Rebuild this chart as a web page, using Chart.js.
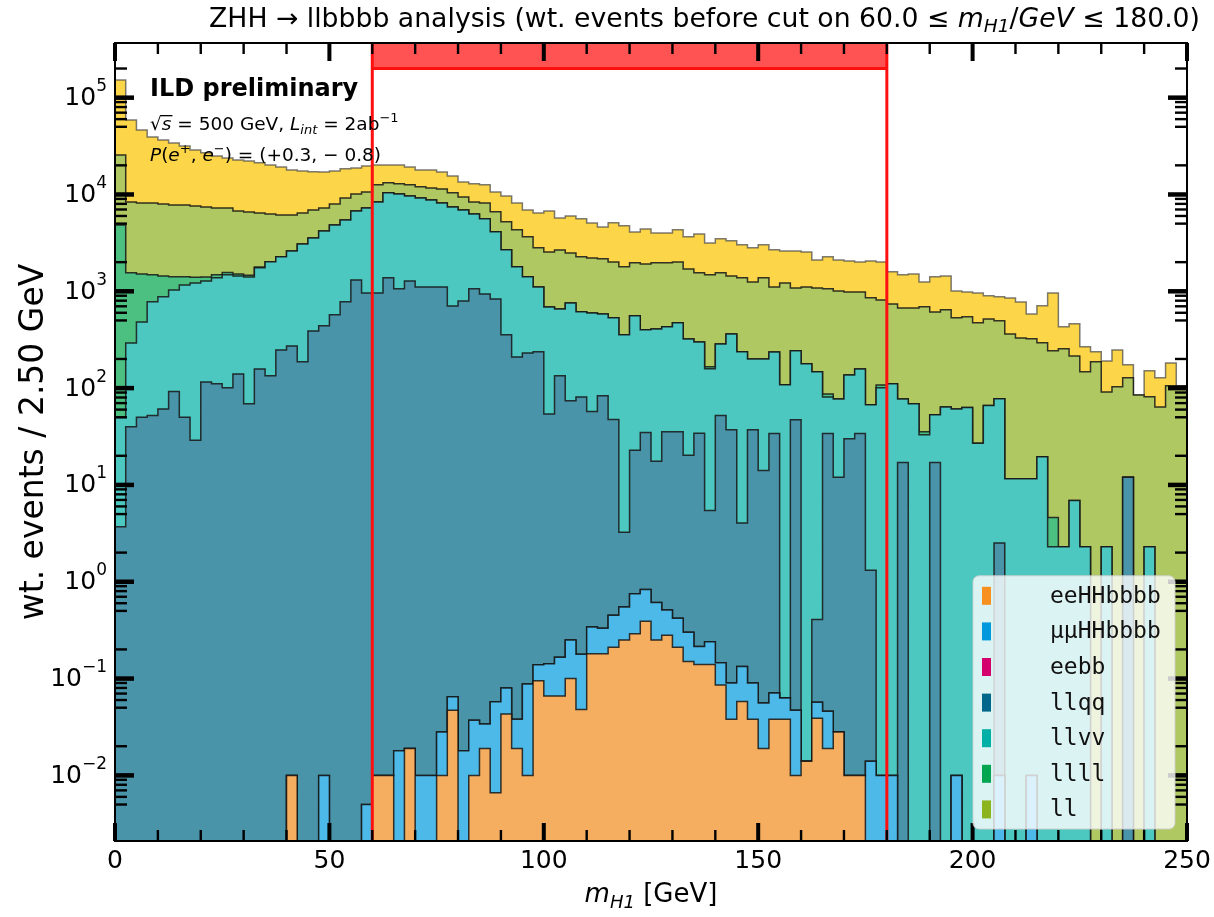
<!DOCTYPE html>
<html>
<head>
<meta charset="utf-8">
<script src="https://cdn.jsdelivr.net/npm/chart.js@4.4.1/dist/chart.umd.min.js"></script>
<style>
  html, body { margin: 0; padding: 0; background: #fff; }
  #wrap { width: 1214px; height: 917px; }
</style>
</head>
<body>
<div id="wrap"><canvas id="mh1Chart" width="1214" height="917"></canvas></div>
<script>
// m_H1 histogram, 100 bins of 2.5 GeV between 0 and 250 GeV
const binWidth = 2.5;
const nBins = 100;
const cutLow = 60.0;
const cutHigh = 180.0;
const cutBandFloor = 2.0e5;     // lower edge of the red cut band at the top
const yDecades = [-2, -1, 0, 1, 2, 3, 4, 5];
const yMinorMults = [2, 5, 6, 7, 8, 9];
const xTickValues = [0, 50, 100, 150, 200, 250];

// per-bin weighted events, stacked from bottom to top
const eeHHbbbb = [
  0, 0, 0, 0, 0, 0, 0, 0, 0, 0,
  0, 0, 0, 0, 0, 0, 0.01, 0, 0, 0,
  0, 0, 0, 0, 0.01, 0.01, 0, 0.019, 0, 0,
  0.01, 0.047, 0, 0.01, 0.019, 0.0066, 0.043, 0.019, 0.01, 0.095,
  0.066, 0.066, 0.1, 0.048, 0.18, 0.18, 0.21, 0.25, 0.29, 0.39,
  0.25, 0.28, 0.21, 0.15, 0.14, 0.14, 0.086, 0.038, 0.058, 0.038,
  0.019, 0.038, 0.038, 0.01, 0.014, 0.039, 0.019, 0.028, 0.01, 0.01,
  0, 0, 0, 0, 0, 0, 0, 0, 0, 0,
  0, 0, 0, 0, 0, 0, 0, 0, 0, 0,
  0, 0, 0, 0, 0, 0, 0, 0, 0, 0
];
const mumuHHbbbb = [
  0, 0, 0, 0, 0, 0, 0, 0, 0, 0,
  0, 0, 0, 0, 0, 0, 0, 0, 0, 0.01,
  0, 0, 0, 0.005, 0, 0, 0.018, 0, 0.01, 0.01,
  0.018, 0.018, 0.018, 0.027, 0.015, 0.051, 0.037, 0.019, 0.078, 0.044,
  0.076, 0.10, 0.15, 0.13, 0.16, 0.15, 0.24, 0.30, 0.46, 0.44,
  0.36, 0.23, 0.21, 0.15, 0.074, 0.10, 0.06, 0.052, 0.075, 0.052,
  0.037, 0.033, 0.025, 0.037, 0, 0.018, 0.027, 0, 0, 0,
  0.014, 0.01, 0.01, 0, 0, 0, 0, 0, 0.01, 0,
  0, 0, 0.01, 0, 0, 0.01, 0, 0, 0, 0,
  0, 0, 0, 0, 0, 0, 0, 0, 0, 0
];
const eebb = [
  0, 0, 0, 0, 0, 0, 0, 0, 0, 0,
  0, 0, 0, 0, 0, 0, 0, 0, 0, 0,
  0, 0, 0, 0, 0, 0, 0, 0, 0, 0,
  0, 0, 0, 0, 0, 0, 0, 0, 0, 0,
  0, 0, 0, 0, 0, 0, 0, 0, 0, 0,
  0, 0, 0, 0, 0, 0, 0, 0, 0, 0,
  0, 0, 0, 0, 0, 0, 0, 0, 0, 0,
  0, 0, 0, 0, 0, 0, 0, 0, 0, 0,
  0, 0, 0, 0, 0, 0, 0, 0, 0, 0,
  0, 0, 0, 0, 0, 0, 0, 0, 0, 0
];
const llqq = [
  3.7, 40, 50, 52, 61, 92, 50, 29, 116, 111,
  101, 140, 69, 158, 134, 248, 273, 187, 390, 440,
  571, 778, 1310, 963, 963, 1380, 1060, 1280, 1110, 1110,
  1110, 707, 796, 1060, 940, 835, 355, 210, 231, 237,
  54, 134, 74, 81, 57, 83, 47, 2.7, 22, 34,
  17, 35, 35, 20, 34, 5.2, 52, 37, 3.9, 37,
  14, 34, 0, 47, 0, 0.35, 34, 12, 30, 34,
  1.3, 0, 0, 17, 0, 0, 17, 0, 0, 0,
  0, 0, 2.5, 0, 0, 0, 0, 0, 0, 0,
  0, 0, 0, 0, 12, 0, 0, 0, 0, 0
];
const llvv = [
  46, 253, 433, 726, 815, 938, 1110, 1190, 1160, 1270,
  1380, 1300, 1340, 1590, 1880, 2020, 2340, 2900, 3170, 3760,
  4280, 4680, 5460, 6300, 7420, 9020, 9040, 8380, 8100, 7680,
  7070, 6730, 6130, 5240, 4660, 3280, 2330, 1580, 1180, 873,
  636, 524, 685, 532, 541, 501, 485, 352, 535, 365,
  391, 395, 437, 302, 266, 153, 234, 326, 233, 163,
  186, 202, 108, 196, 178, 147, 47, 65, 107, 124,
  66, 101, 111, 60, 69, 33, 36, 64, 61, 63,
  27, 66, 75, 11.6, 11.6, 11.6, 19.5, 2.3, 2.3, 6.9,
  2.3, 0, 2.3, 0, 0, 0, 2.3, 0, 0, 0
];
const llll = [
  4800, 1260, 1030, 700, 560, 380, 250, 180, 130, 100,
  80, 70, 60, 30, 0, 0, 0, 0, 0, 0,
  0, 0, 0, 0, 0, 0, 0, 0, 0, 0,
  0, 0, 0, 0, 0, 0, 0, 0, 0, 0,
  0, 0, 0, 0, 0, 0, 0, 0, 0, 0,
  0, 0, 0, 0, 0, 8, 0, 0, 0, 0,
  0, 0, 0, 0, 0, 0, 6, 0, 0, 0,
  0, 7, 0, 0, 0, 2.5, 0, 0, 0, 0,
  0, 0, 0, 0, 0, 0, 0, 2.3, 0, 0,
  0, 0, 0, 0, 0, 0, 0, 0, 0, 0
];
const ll = [
  20750, 6830, 6670, 6700, 6550, 6390, 6390, 6220, 6030, 5780,
  5700, 5260, 5140, 4670, 4290, 3880, 3540, 3360, 3370, 3060,
  3140, 3750, 3330, 3340, 4220, 2800, 2800, 2940, 2790, 2910,
  3220, 2960, 2510, 2080, 2580, 2500, 2530, 2520, 2240, 1700,
  1860, 2020, 1730, 1660, 1610, 1580, 1480, 1435, 1410, 1520,
  1560, 1540, 1540, 1377, 1250, 1314, 1264, 1077, 1143, 1050,
  1180, 873, 1112, 837, 932, 933, 973, 932, 849, 828,
  788, 707, 630, 596, 605, 655, 560, 579, 471, 482,
  445, 453, 418, 351, 318, 311, 274, 238, 252, 208,
  145, 187, 89, 103, 116, 85, 79, 64, 106, 106
];
// top (yellow) layer, not listed in the legend box
const otherBg = [
  126800, 50500, 38200, 31100, 28600, 26300, 23900, 21200, 19500, 17700,
  16500, 15900, 15600, 14800, 13900, 13100, 11800, 11000, 10200, 9840,
  9510, 9190, 8700, 9100, 7600, 7000, 7300, 6600, 5900, 6200,
  5700, 5100, 4060, 4520, 4420, 3990, 4450, 3870, 3280, 3640,
  4220, 3050, 3520, 3330, 2880, 2460, 3080, 2950, 2140, 2490,
  2040, 2040, 2300, 1950, 2360, 1680, 1930, 1880, 1640, 1560,
  1640, 1570, 1390, 1530, 1440, 1030, 1210, 1100, 1074, 1024,
  1205, 1195, 849, 806, 836, 560, 797, 797, 478, 441,
  491, 378, 381, 492, 448, 261, 414, 720, 176, 246,
  120, 50, 99, 145, 46, 0, 70, 64, 76, 0
];

const layers = [
  { label: 'eeHHbbbb', data: eeHHbbbb,   fill: '#f5ae60', key: '#f7901e', edge: 'rgba(20,20,20,0.85)', legend: true },
  { label: 'μμHHbbbb', data: mumuHHbbbb, fill: '#4db9e8', key: '#0099dd', edge: 'rgba(20,20,20,0.85)', legend: true },
  { label: 'eebb',     data: eebb,       fill: '#de4c94', key: '#d4006e', edge: 'rgba(20,20,20,0.85)', legend: true },
  { label: 'llqq',     data: llqq,       fill: '#4a94aa', key: '#00668a', edge: 'rgba(20,20,20,0.85)', legend: true },
  { label: 'llvv',     data: llvv,       fill: '#4cc8c0', key: '#00afa5', edge: 'rgba(20,20,20,0.85)', legend: true },
  { label: 'llll',     data: llll,       fill: '#4cc080', key: '#00a550', edge: 'rgba(20,20,20,0.85)', legend: true },
  { label: 'll',       data: ll,         fill: '#b0c862', key: '#8cb41e', edge: 'rgba(20,20,20,0.85)', legend: true },
  { label: 'other',    data: otherBg,    fill: '#fcd648', key: '#fcc51e', edge: 'rgba(70,70,70,0.7)',  legend: false }
];

const edges = Array.from({ length: nBins + 1 }, (_, i) => i * binWidth);
const logFloor = 1e-5;   // empty stacks sit below the visible range

let running = new Array(nBins).fill(0);
const datasets = layers.map((layer, k) => {
  running = running.map((s, i) => s + layer.data[i]);
  const pts = edges.map((x, i) => {
    const v = running[Math.min(i, nBins - 1)];
    return { x: x, y: v > 0 ? v : logFloor };
  });
  return {
    label: layer.label,
    data: pts,
    stepped: true,
    fill: k === 0 ? 'start' : '-1',
    backgroundColor: layer.fill,
    borderColor: layer.edge,
    borderWidth: 1.5,
    pointRadius: 0,
    pointHoverRadius: 0
  };
});

const FONT = '"DejaVu Sans"';

function drawRich(ctx, parts, x, y, align) {
  let w = 0;
  parts.forEach(p => { ctx.font = p.font; w += ctx.measureText(p.t).width; });
  let cx = align === 'right' ? x - w : align === 'center' ? x - w / 2 : x;
  parts.forEach(p => {
    ctx.font = p.font;
    ctx.fillText(p.t, cx, y + (p.dy || 0));
    cx += ctx.measureText(p.t).width;
  });
}

// red cut window, inward ticks, decade labels and axes frame
const cutAndFrame = {
  id: 'cutAndFrame',
  afterDatasetsDraw(chart) {
    const { ctx, chartArea: a, scales: { x, y } } = chart;
    ctx.save();
    const xl = x.getPixelForValue(cutLow);
    const xr = x.getPixelForValue(cutHigh);
    const yb = y.getPixelForValue(cutBandFloor);
    ctx.fillStyle = 'rgba(255,0,0,0.68)';
    ctx.fillRect(xl, a.top, xr - xl, yb - a.top);
    ctx.strokeStyle = '#ff1010';
    ctx.lineWidth = 3;
    ctx.beginPath();
    ctx.moveTo(xl, a.bottom); ctx.lineTo(xl, a.top);
    ctx.moveTo(xr, a.bottom); ctx.lineTo(xr, a.top);
    ctx.moveTo(xl, yb); ctx.lineTo(xr, yb);
    ctx.stroke();

    ctx.fillStyle = '#000';
    for (let v = x.min; v <= x.max; v += 10) {
      const px = x.getPixelForValue(v);
      const major = v % 50 === 0;
      const len = major ? 18 : 11;
      const w = major ? 4 : 2.4;
      ctx.fillRect(px - w / 2, a.bottom - len, w, len);
      ctx.fillRect(px - w / 2, a.top, w, len);
    }
    const drawY = (val, major) => {
      if (val < y.min || val > y.max) return;
      const py = y.getPixelForValue(val);
      const len = major ? 19 : 12;
      const h = major ? 4.5 : 2.4;
      ctx.fillRect(a.left, py - h / 2, len, h);
      ctx.fillRect(a.right - len, py - h / 2, len, h);
    };
    for (let e = -3; e <= 5; e++) {
      drawY(Math.pow(10, e), true);
      yMinorMults.forEach(m => drawY(m * Math.pow(10, e), false));
    }
    ctx.strokeStyle = '#000';
    ctx.lineWidth = 2;
    ctx.strokeRect(a.left, a.top, a.right - a.left, a.bottom - a.top);

    // decade labels 10^n with real superscripts
    ctx.textBaseline = 'middle';
    y.ticks.forEach(t => {
      const py = y.getPixelForValue(t.value);
      const ex = String(Math.round(Math.log10(t.value))).replace('-', '−');
      drawRich(ctx, [
        { t: '10', font: '25px ' + FONT },
        { t: ex, font: '17px ' + FONT, dy: -12 }
      ], a.left - 8, py + 1, 'right');
    });
    ctx.restore();
  }
};

// legend box, labels and titles
const annotations = {
  id: 'annotations',
  afterDraw(chart) {
    const { ctx, chartArea: a } = chart;
    ctx.save();

    // legend
    const entries = layers.filter(l => l.legend);
    const boxW = 202, rowH = 35.6;
    const boxH = entries.length * rowH + 4;
    const bx = a.right - 12 - boxW, by = a.bottom - 12 - boxH;
    ctx.fillStyle = 'rgba(255,255,255,0.8)';
    ctx.strokeStyle = 'rgba(205,205,205,0.9)';
    ctx.lineWidth = 1;
    ctx.beginPath();
    ctx.roundRect(bx, by, boxW, boxH, 6);
    ctx.fill();
    ctx.stroke();
    ctx.textBaseline = 'middle';
    ctx.font = '23px "DejaVu Sans Mono"';
    entries.forEach((l, i) => {
      const cy = by + 20 + i * rowH;
      ctx.fillStyle = l.key;
      ctx.fillRect(bx + 9, cy - 9, 9, 18);
      ctx.fillStyle = '#111';
      ctx.fillText(l.label, bx + 77, cy + 1);
    });

    // ILD label block
    ctx.textBaseline = 'alphabetic';
    ctx.fillStyle = '#000';
    ctx.font = 'bold 24px ' + FONT;
    ctx.fillText('ILD preliminary', a.left + 35, 96);

    const r = 18.5, s = 13;
    const lx = a.left + 35;
    ctx.font = r + 'px ' + FONT;
    const rootW = ctx.measureText('√').width;
    ctx.font = 'italic ' + r + 'px ' + FONT;
    const sW = ctx.measureText('s').width;
    drawRich(ctx, [
      { t: '√', font: r + 'px ' + FONT },
      { t: 's', font: 'italic ' + r + 'px ' + FONT },
      { t: ' = 500 GeV, ', font: r + 'px ' + FONT },
      { t: 'L', font: 'italic ' + r + 'px ' + FONT },
      { t: 'int', font: 'italic ' + s + 'px ' + FONT, dy: 4 },
      { t: ' = 2ab', font: r + 'px ' + FONT },
      { t: '−1', font: s + 'px ' + FONT, dy: -8 }
    ], lx, 130, 'left');
    ctx.fillRect(lx + rootW - 1, 130 - 15, sW + 2, 1.3);

    drawRich(ctx, [
      { t: 'P', font: 'italic ' + r + 'px ' + FONT },
      { t: '(', font: r + 'px ' + FONT },
      { t: 'e', font: 'italic ' + r + 'px ' + FONT },
      { t: '+', font: s + 'px ' + FONT, dy: -8 },
      { t: ', ', font: r + 'px ' + FONT },
      { t: 'e', font: 'italic ' + r + 'px ' + FONT },
      { t: '−', font: s + 'px ' + FONT, dy: -8 },
      { t: ') = (+0.3, − 0.8)', font: r + 'px ' + FONT }
    ], lx, 161, 'left');

    // top title
    const T = 26.7;
    drawRich(ctx, [
      { t: 'ZHH → llbbbb analysis (wt. events before cut on ' + cutLow.toFixed(1) + ' ≤ ', font: T + 'px ' + FONT },
      { t: 'm', font: 'italic ' + T + 'px ' + FONT },
      { t: 'H1', font: 'italic 18.5px ' + FONT, dy: 5 },
      { t: '/', font: T + 'px ' + FONT },
      { t: 'GeV', font: 'italic ' + T + 'px ' + FONT },
      { t: ' ≤ ' + cutHigh.toFixed(1) + ')', font: T + 'px ' + FONT }
    ], a.right + 13, 27, 'right');

    // x axis title
    drawRich(ctx, [
      { t: 'm', font: 'italic 26px ' + FONT },
      { t: 'H1', font: 'italic 18px ' + FONT, dy: 6 },
      { t: ' [GeV]', font: '26px ' + FONT }
    ], (a.left + a.right) / 2, 902, 'center');

    ctx.restore();
  }
};

Chart.defaults.font.family = FONT;
Chart.defaults.color = '#000';

const ctx = document.getElementById('mh1Chart').getContext('2d');
const mh1Chart = new Chart(ctx, {
  type: 'line',
  data: { datasets: datasets },
  options: {
    responsive: false,
    animation: false,
    devicePixelRatio: 1,
    layout: { padding: { left: 0, right: 27, top: 43, bottom: 0 } },
    plugins: {
      legend: { display: false },
      tooltip: { enabled: false }
    },
    scales: {
      x: {
        type: 'linear',
        min: 0,
        max: 250,
        afterBuildTicks: scale => { scale.ticks = xTickValues.map(v => ({ value: v })); },
        afterFit: scale => { scale.height = 76; scale.paddingLeft = 0; scale.paddingRight = 0; },
        ticks: { font: { size: 25 }, padding: 5, maxRotation: 0, autoSkip: false },
        grid: { display: false, drawTicks: false },
        border: { display: false }
      },
      y: {
        type: 'logarithmic',
        min: 0.0021,
        max: 3.67e5,
        afterBuildTicks: scale => { scale.ticks = yDecades.map(e => ({ value: Math.pow(10, e) })); },
        afterFit: scale => { scale.width = 115; scale.paddingTop = 0; scale.paddingBottom = 0; },
        ticks: { display: false },
        grid: { display: false, drawTicks: false },
        border: { display: false },
        title: {
          display: true,
          text: 'wt. events / 2.50 GeV',
          font: { size: 33 },
          padding: { top: 15, bottom: 0 }
        }
      }
    }
  },
  plugins: [cutAndFrame, annotations]
});
</script>
</body>
</html>
